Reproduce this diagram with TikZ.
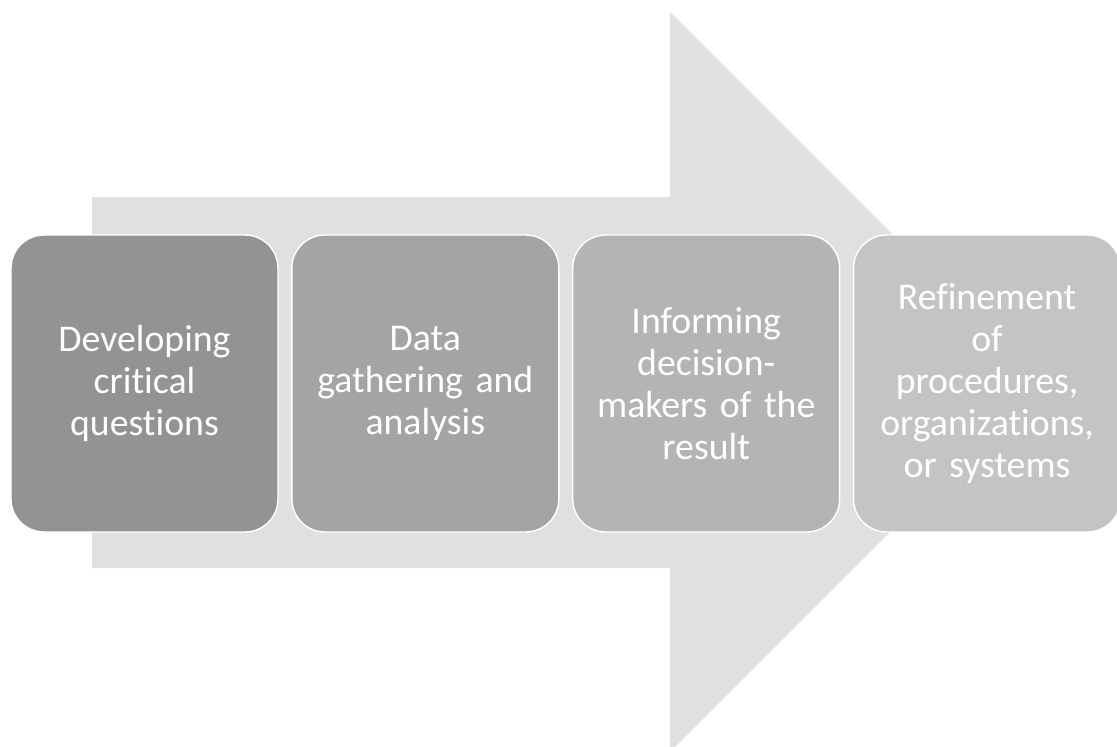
\documentclass[tikz,border=0pt]{standalone}
\usepackage{xcolor}
\usepackage{fontspec}
\setmainfont{Carlito}[Ligatures=NoCommon]
\usetikzlibrary{positioning}

\definecolor{arrowgray}{HTML}{E0E0E0}
\definecolor{stepA}{HTML}{939393}
\definecolor{stepB}{HTML}{A4A4A4}
\definecolor{stepC}{HTML}{B4B4B4}
\definecolor{stepD}{HTML}{C4C4C4}

\begin{document}
\begin{tikzpicture}[
        x=0.02cm, y=-0.02cm,
        stagebox/.style={draw=white, line width=0.8pt, rounded corners=0.66cm,
            minimum width=5.34cm, minimum height=5.94cm, inner sep=0pt,
            text width=5.1cm, align=center, text=white,
            font=\fontsize{21.5}{23.9}\selectfont}]

    \clip (0,0) rectangle (1117,747);

    % big arrow behind the steps
    \fill[arrowgray] (92,197) -- (670,197) -- (670,12) -- (1040,382)
        -- (670,752) -- (670,568) -- (92,568) -- cycle;

    \node[stagebox, fill=stepA] (questions) at (144.5,383.5) {Developing\\critical\\questions};
    \node[stagebox, fill=stepB, right=0.25cm of questions] (gathering) {Data\\gathering and\\analysis};
    \node[stagebox, fill=stepC, right=0.25cm of gathering] (informing) {Informing\\decision-\\makers of the\\result};
    \node[stagebox, fill=stepD, right=0.25cm of informing] (refinement) {Refinement\\of\\procedures,\\organizations,\\or systems};
\end{tikzpicture}
\end{document}
